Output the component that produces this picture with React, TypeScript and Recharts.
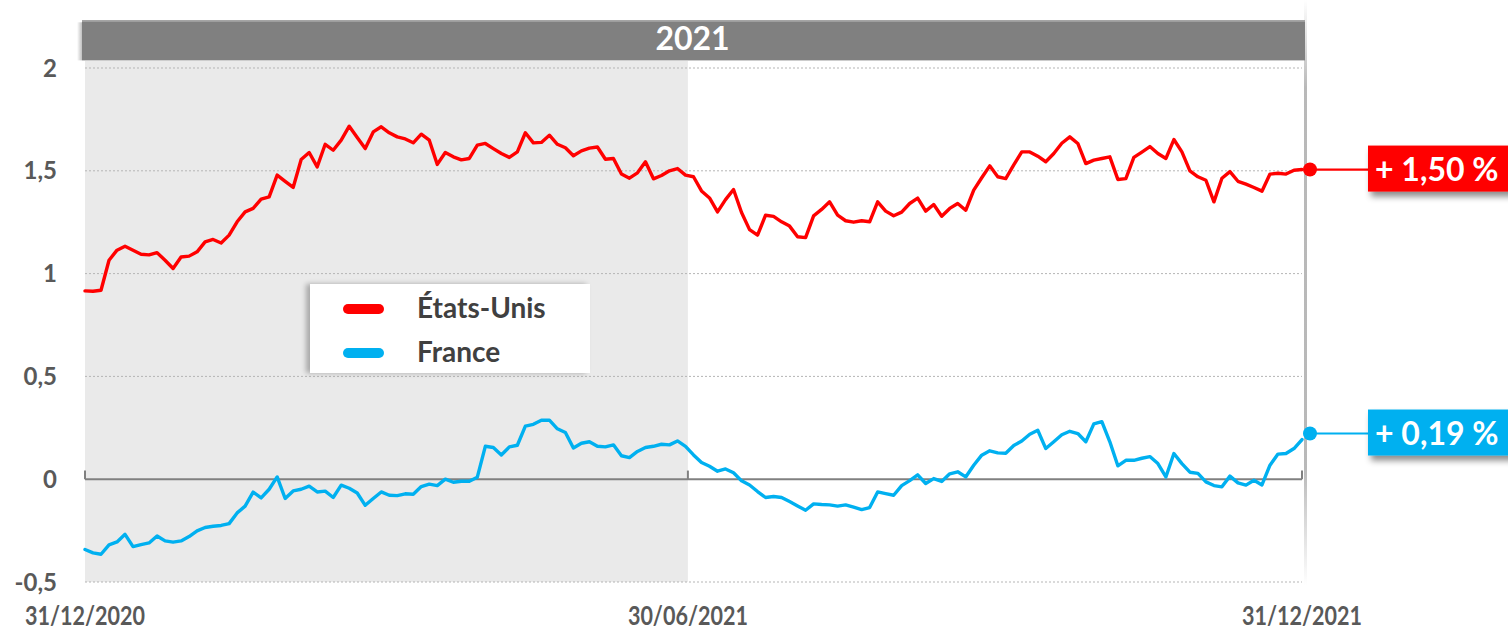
import React from 'react';
import {
  LineChart,
  Line,
  XAxis,
  YAxis,
  ReferenceArea,
  ReferenceLine,
  Legend,
} from 'recharts';

// ---- data (one point every ~1.4 trading days) ----
const usValues: number[] = [
  0.916, 0.914, 0.919, 1.065, 1.114, 1.133, 1.114, 1.094, 1.091, 1.102,
  1.065, 1.025, 1.081, 1.085, 1.106, 1.154, 1.166, 1.149, 1.187, 1.252,
  1.300, 1.317, 1.362, 1.373, 1.479, 1.449, 1.419, 1.555, 1.589, 1.519,
  1.629, 1.600, 1.649, 1.717, 1.662, 1.608, 1.689, 1.714, 1.685, 1.665,
  1.655, 1.636, 1.678, 1.649, 1.531, 1.589, 1.568, 1.553, 1.560, 1.625,
  1.633, 1.608, 1.584, 1.565, 1.592, 1.685, 1.636, 1.638, 1.673, 1.629,
  1.612, 1.573, 1.597, 1.610, 1.616, 1.556, 1.560, 1.484, 1.464, 1.490,
  1.544, 1.461, 1.477, 1.500, 1.511, 1.479, 1.471, 1.402, 1.368, 1.300,
  1.360, 1.409, 1.297, 1.214, 1.187, 1.284, 1.278, 1.252, 1.231, 1.179,
  1.175, 1.281, 1.312, 1.349, 1.284, 1.257, 1.250, 1.257, 1.252, 1.349,
  1.304, 1.281, 1.299, 1.341, 1.367, 1.304, 1.336, 1.279, 1.317, 1.341,
  1.308, 1.406, 1.466, 1.524, 1.471, 1.462, 1.529, 1.592, 1.592, 1.571,
  1.544, 1.584, 1.634, 1.665, 1.633, 1.535, 1.552, 1.560, 1.568, 1.458,
  1.462, 1.565, 1.591, 1.618, 1.584, 1.560, 1.652, 1.592, 1.500, 1.471,
  1.454, 1.349, 1.464, 1.496, 1.449, 1.435, 1.419, 1.401, 1.484, 1.488,
  1.484, 1.503, 1.506,
];

const frValues: number[] = [
  -0.342, -0.358, -0.365, -0.319, -0.305, -0.268, -0.328, -0.318, -0.310, -0.276,
  -0.300, -0.306, -0.300, -0.279, -0.251, -0.235, -0.229, -0.225, -0.216, -0.164,
  -0.131, -0.063, -0.091, -0.049, 0.011, -0.094, -0.057, -0.049, -0.034, -0.062,
  -0.058, -0.089, -0.029, -0.044, -0.067, -0.127, -0.094, -0.062, -0.078, -0.080,
  -0.071, -0.073, -0.036, -0.024, -0.031, 0.000, -0.015, -0.010, -0.010, 0.010,
  0.160, 0.154, 0.118, 0.157, 0.165, 0.258, 0.267, 0.287, 0.287, 0.245,
  0.227, 0.152, 0.175, 0.182, 0.160, 0.157, 0.167, 0.114, 0.105, 0.135,
  0.154, 0.160, 0.170, 0.167, 0.186, 0.160, 0.118, 0.081, 0.063, 0.039,
  0.050, 0.031, -0.008, -0.028, -0.060, -0.089, -0.084, -0.089, -0.109, -0.130,
  -0.151, -0.120, -0.123, -0.125, -0.131, -0.125, -0.136, -0.148, -0.138, -0.062,
  -0.070, -0.078, -0.031, -0.007, 0.021, -0.021, 0.003, -0.011, 0.026, 0.036,
  0.011, 0.068, 0.117, 0.138, 0.128, 0.126, 0.164, 0.186, 0.219, 0.238,
  0.149, 0.182, 0.216, 0.233, 0.222, 0.182, 0.269, 0.280, 0.182, 0.065,
  0.092, 0.092, 0.102, 0.110, 0.076, 0.011, 0.125, 0.076, 0.034, 0.028,
  -0.013, -0.031, -0.037, 0.015, -0.018, -0.029, -0.005, -0.028, 0.068, 0.122,
  0.125, 0.149, 0.193,
];

const seriesNames = ['États-Unis', 'France'];
const seriesColors = ['#FF0000', '#00B0F0'];
const endLabels = ['+ 1,50 %', '+ 0,19 %'];
const headerLabel = '2021';

const xTickLabels = ['31/12/2020', '30/06/2021', '31/12/2021'];
const xTickPositions = [0, 75.3, 152];
const yTicks = [-0.5, 0, 0.5, 1, 1.5, 2];
const yTickLabels = ['-0,5', '0', '0,5', '1', '1,5', '2'];
const gridValues = [-0.5, 0.5, 1, 1.5, 2];

const data = usValues.map((us, i) => ({ x: i, us, fr: frValues[i] }));
const lastIndex = data.length - 1;

const FONT = 'Lato, "Open Sans", sans-serif';
const TEXT_GREY = '#595959';

const XTick = (props: any) => {
  const { x, y, payload } = props;
  const idx = xTickPositions.indexOf(payload.value);
  const label = idx >= 0 ? xTickLabels[idx] : '';
  return (
    <text
      x={x}
      y={y + 43}
      textAnchor="middle"
      fontFamily={FONT}
      fontSize={27}
      fontWeight={700}
      fill={TEXT_GREY}
      textLength={120}
      lengthAdjust="spacingAndGlyphs"
    >
      {label}
    </text>
  );
};

const YTick = (props: any) => {
  const { x, y, payload } = props;
  const idx = yTicks.indexOf(payload.value);
  return (
    <text
      x={x}
      y={y + 8.5}
      textAnchor="end"
      fontFamily={FONT}
      fontSize={24}
      fontWeight={700}
      fill={TEXT_GREY}
    >
      {idx >= 0 ? yTickLabels[idx] : ''}
    </text>
  );
};

const makeEndDot = (seriesIdx: number, dy: number) => (props: any) => {
  const { cx, cy, index } = props;
  if (index !== lastIndex || cx == null || cy == null) {
    return <g key={`d-${seriesIdx}-${index}`} />;
  }
  const color = seriesColors[seriesIdx];
  const yy = cy + dy;
  const boxX = 1368;
  const fid = `shadow-${seriesIdx}`;
  return (
    <g key={`end-${seriesIdx}`}>
      <defs>
        <filter id={fid} x="-20%" y="-30%" width="140%" height="180%">
          <feDropShadow dx="3" dy="5" stdDeviation="3" floodColor="#000" floodOpacity="0.45" />
        </filter>
      </defs>
      <line x1={cx + 8} y1={yy} x2={boxX} y2={yy} stroke={color} strokeWidth={2.2} />
      <circle cx={cx + 8} cy={yy} r={7} fill={color} />
      <rect x={boxX} y={yy - 24} width={150} height={46} fill={color} filter={`url(#${fid})`} />
      <text
        x={boxX + 7}
        y={yy + 11}
        fontFamily={FONT}
        fontSize={32}
        fontWeight={700}
        fill="#FFFFFF"
      >
        {endLabels[seriesIdx]}
      </text>
    </g>
  );
};

const HeaderShape = (props: any) => {
  const { x, y, width, height } = props;
  return (
    <g>
      <defs>
        <linearGradient id="hdrShadow" x1="0" y1="0" x2="1" y2="0">
          <stop offset="0" stopColor="#000" stopOpacity="0" />
          <stop offset="1" stopColor="#000" stopOpacity="0.25" />
        </linearGradient>
        <linearGradient id="rightShadow" x1="0" y1="0" x2="0" y2="1">
          <stop offset="0" stopColor="#8a8a8a" stopOpacity="0" />
          <stop offset="0.15" stopColor="#8a8a8a" stopOpacity="0.6" />
          <stop offset="0.8" stopColor="#8a8a8a" stopOpacity="0.6" />
          <stop offset="1" stopColor="#8a8a8a" stopOpacity="0" />
        </linearGradient>
      </defs>
      <rect x={x - 8} y={y + 2} width={5} height={height - 2} fill="url(#hdrShadow)" />
      <rect x={x + width + 2} y={0} width={3} height={585} fill="url(#rightShadow)" />
      <rect x={x - 3} y={y} width={width + 6} height={height} fill="#808080" />
      <rect x={x - 3} y={y} width={width + 6} height={1.5} fill="#A6A6A6" />
      <text
        x={x + width / 2 - 1}
        y={y + 30}
        textAnchor="middle"
        fontFamily={FONT}
        fontSize={32}
        fontWeight={700}
        fill="#FFFFFF"
      >
        {headerLabel}
      </text>
    </g>
  );
};

const LegendBox = () => (
  <div
    style={{
      position: 'relative',
      width: 280,
      height: 89,
      background: '#FFFFFF',
      boxShadow: '-4px 0px 5px rgba(0,0,0,0.28)',
      fontFamily: FONT,
    }}
  >
    {seriesNames.map((name, i) => (
      <div
        key={name}
        style={{ position: 'absolute', left: 0, top: i === 0 ? 6 : 50, height: 38, width: 280 }}
      >
        <div
          style={{
            position: 'absolute',
            left: 33,
            top: 14,
            width: 41,
            height: 10,
            borderRadius: 5,
            background: seriesColors[i],
          }}
        />
        <div
          style={{
            position: 'absolute',
            left: 107,
            top: 1,
            fontSize: 28,
            fontWeight: 700,
            color: '#404040',
            lineHeight: '32px',
            whiteSpace: 'nowrap',
          }}
        >
          {name}
        </div>
      </div>
    ))}
  </div>
);

export default function App() {
  return (
    <div
      style={{
        position: 'absolute',
        left: 0,
        top: 0,
        width: 1508,
        height: 631,
        background: '#FFFFFF',
        fontFamily: FONT,
      }}
    >
      <LineChart
        width={1508}
        height={631}
        data={data}
        margin={{ top: 68, right: 206, bottom: 19, left: 0 }}
      >
        <ReferenceArea
          x1={0}
          x2={75.3}
          y1={-0.5}
          y2={2.034}
          fill="#EAEAEA"
          fillOpacity={1}
          stroke="none"
          ifOverflow="visible"
        />
        <ReferenceArea
          x1={0}
          x2={152}
          y1={2.037}
          y2={2.232}
          ifOverflow="visible"
          shape={<HeaderShape />}
        />
        <XAxis
          dataKey="x"
          type="number"
          domain={[0, 152]}
          ticks={xTickPositions}
          interval={0}
          axisLine={false}
          tickLine={false}
          tickSize={0}
          tickMargin={0}
          height={30}
          tick={<XTick />}
        />
        <YAxis
          type="number"
          domain={[-0.5, 2]}
          ticks={yTicks}
          interval={0}
          axisLine={false}
          tickLine={false}
          tickSize={0}
          tickMargin={28}
          width={85}
          tick={<YTick />}
        />
        {gridValues.map((g) => (
          <ReferenceLine
            key={`grid-${g}`}
            y={g}
            stroke="#B5B5B5"
            strokeDasharray="2 2"
            strokeWidth={1}
          />
        ))}
        <ReferenceLine y={0} stroke="#808080" strokeWidth={2} />
        {xTickPositions.map((p) => (
          <ReferenceLine
            key={`zt-${p}`}
            segment={[
              { x: p, y: 0 },
              { x: p, y: 0.042 },
            ]}
            stroke="#808080"
            strokeWidth={2}
          />
        ))}
        <Legend
          layout="horizontal"
          verticalAlign="middle"
          align="center"
          content={<LegendBox />}
          wrapperStyle={{ position: 'absolute', left: 310, top: 284, width: 280, height: 89 }}
        />
        <Line
          type="linear"
          dataKey="us"
          name={seriesNames[0]}
          stroke={seriesColors[0]}
          strokeWidth={3.4}
          strokeLinejoin="round"
          strokeLinecap="round"
          dot={makeEndDot(0, 0)}
          activeDot={false}
          isAnimationActive={false}
        />
        <Line
          type="linear"
          dataKey="fr"
          name={seriesNames[1]}
          stroke={seriesColors[1]}
          strokeWidth={3.4}
          strokeLinejoin="round"
          strokeLinecap="round"
          dot={makeEndDot(1, -6)}
          activeDot={false}
          isAnimationActive={false}
        />
      </LineChart>
    </div>
  );
}
